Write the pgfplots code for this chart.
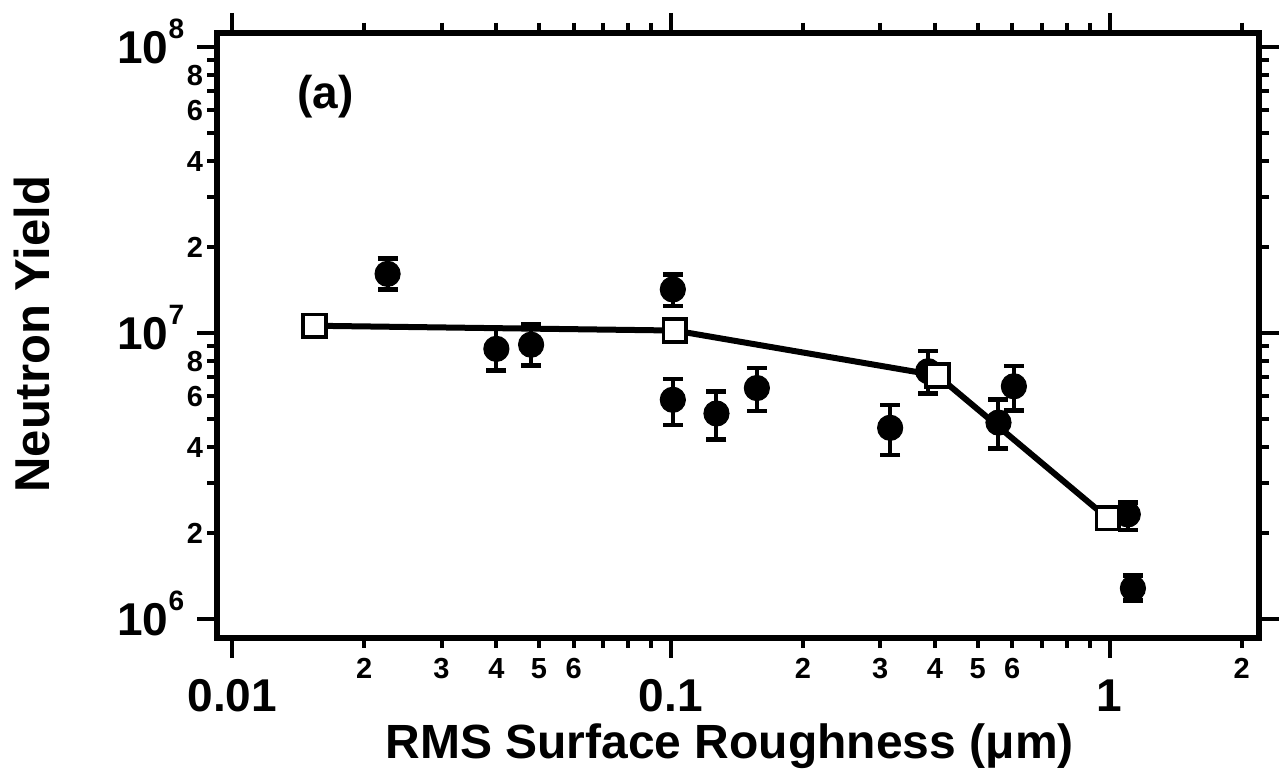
\documentclass[border=0pt]{standalone}
\usepackage{fontspec}
\setmainfont{Liberation Sans}
\usepackage{pgfplots}
\pgfplotsset{compat=1.18}

% big "10" with raised exponent, set in the text font
\newcommand\decade[1]{10\raisebox{12.5pt}{\fontsize{14}{14}\selectfont #1}}

\begin{document}
\begin{tikzpicture}
\begin{axis}[
    name=ax,
    scale only axis,
    width=521pt, height=302.5pt,
    xmode=log, ymode=log,
    xmin=0.00923, xmax=2.19,
    ymin=8.58e5, ymax=1.12e8,
    /pgf/number format/assume math mode=true,
    axis line style={line width=3pt, line cap=rect},
    tick style={line width=2pt, black},
    tick align=outside,
    major tick length=10pt, minor tick length=5pt,
    xtick={0.01,0.1,1},
    xticklabels={0.01,0.1,1},
    minor xtick={0.02,0.03,0.04,0.05,0.06,0.07,0.08,0.09,0.2,0.3,0.4,0.5,0.6,0.7,0.8,0.9,2},
    extra x ticks={0.02,0.03,0.04,0.05,0.06,0.2,0.3,0.4,0.5,0.6,2},
    extra x tick labels={2,3,4,5,6,2,3,4,5,6,2},
    xticklabel style={font=\bfseries\fontsize{23}{23}\selectfont, anchor=base, yshift=-27pt},
    extra x tick style={major tick length=5pt,
        xticklabel style={font=\bfseries\fontsize{14.5}{14.5}\selectfont, yshift=11.5pt}},
    ytick={1e6,1e7,1e8},
    yticklabels={\decade{6},\decade{7},\decade{8}},
    minor ytick={2e6,3e6,4e6,5e6,6e6,7e6,8e6,9e6,2e7,3e7,4e7,5e7,6e7,7e7,8e7,9e7},
    extra y ticks={2e6,4e6,6e6,8e6,2e7,4e7,6e7,8e7},
    extra y tick labels={2,4,6,8,2,4,6,8},
    yticklabel style={font=\bfseries\fontsize{23}{23}\selectfont,
        anchor=base east, xshift=-3pt, yshift=-8.2pt},
    extra y tick style={major tick length=5pt,
        yticklabel style={font=\bfseries\fontsize{14.5}{14.5}\selectfont, xshift=4.5pt, yshift=3pt}},
    ticklabel pos=left,
    xlabel={RMS Surface Roughness (μm)},
    xlabel style={font=\bfseries\fontsize{24}{24}\selectfont,
        at={(axis description cs:0.492,-0.199)}, anchor=base},
    ylabel={Neutron Yield},
    ylabel style={font=\bfseries\fontsize{24.5}{24.5}\selectfont,
        at={(axis description cs:-0.1775,0.502)}, anchor=center},
]

% measured shots with error bars
\addplot[only marks, black, mark=*, mark size=6.3pt,
    mark options={line width=0.5pt},
    error bars/.cd, y dir=both, y explicit,
    error bar style={line width=2pt, black},
    error mark options={rotate=90, mark size=5pt, line width=2.2pt, black}]
coordinates {
    (0.0226,1.61e7) += (0,2.1e6)  -= (0,1.9e6)
    (0.040,8.8e6)   += (0,1.6e6)  -= (0,1.4e6)
    (0.048,9.1e6)   += (0,1.6e6)  -= (0,1.4e6)
    (0.101,1.42e7)  += (0,1.8e6)  -= (0,1.8e6)
    (0.101,5.84e6)  += (0,1.08e6) -= (0,1.07e6)
    (0.127,5.23e6)  += (0,1.02e6) -= (0,0.99e6)
    (0.157,6.42e6)  += (0,1.13e6) -= (0,1.09e6)
    (0.316,4.66e6)  += (0,0.95e6) -= (0,0.91e6)
    (0.386,7.35e6)  += (0,1.28e6) -= (0,1.2e6)
    (0.558,4.86e6)  += (0,0.99e6) -= (0,0.92e6)
    (0.605,6.51e6)  += (0,1.14e6) -= (0,1.15e6)
    (1.10,2.32e6)   += (0,0.23e6) -= (0,0.27e6)
    (1.13,1.28e6)   += (0,0.14e6) -= (0,0.12e6)
};

% simulation
\addplot[black, line width=3pt, mark=square*, mark size=5.7pt,
    mark options={fill=white, line width=1.75pt}]
coordinates {
    (0.0154,1.06e7) (0.102,1.02e7) (0.405,7.1e6) (0.99,2.25e6)
};

\node[font=\bfseries\fontsize{23}{23}\selectfont] at (rel axis cs:0.104,0.894) {(a)};
\end{axis}
\pgfresetboundingbox
\path[use as bounding box] (ax.south west) ++(-108.5pt,-68pt) rectangle ++(640.5pt,387pt);
\end{tikzpicture}
\end{document}
